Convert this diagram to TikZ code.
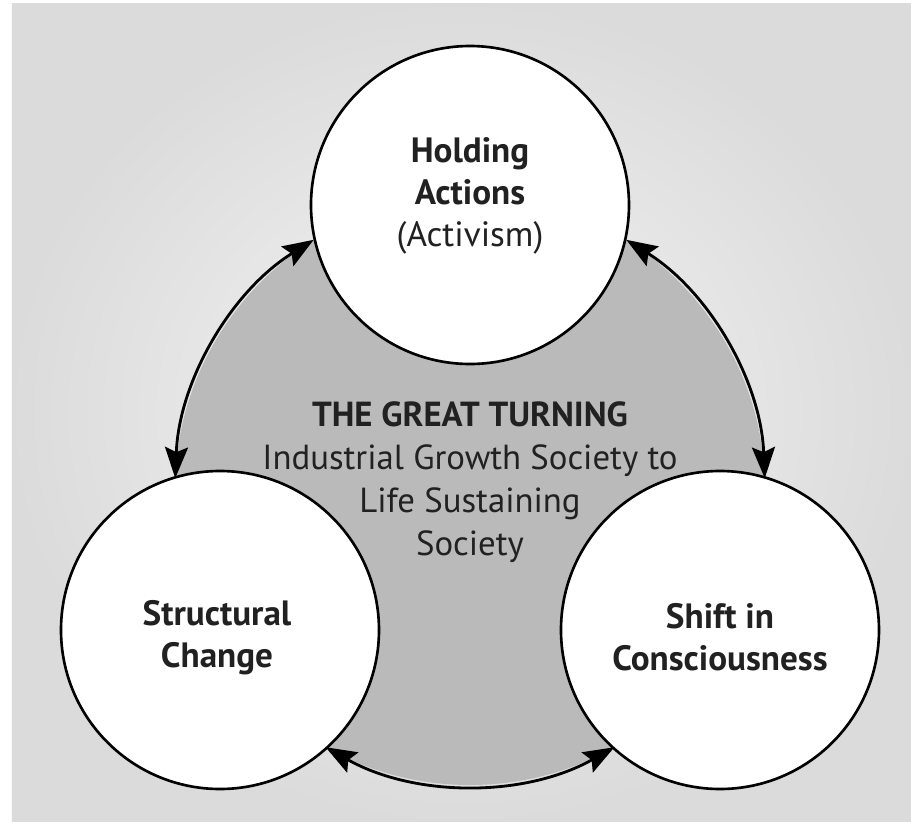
\documentclass[tikz,border=0pt]{standalone}
\usepackage{fontspec}
\setmainfont{PT Sans}
\usetikzlibrary{arrows.meta}
\definecolor{bgin}{gray}{0.96}
\definecolor{bgout}{gray}{0.86}
\definecolor{turnfill}{gray}{0.73}
\definecolor{inkgray}{gray}{0.13}
\tikzset{
>={Stealth[length=3.1mm,width=2.3mm,inset=0.5mm]},
  stage/.style={
    circle,
    draw=black, line width=0.75pt,
    fill=white,
    minimum size=3.18cm,
    inner sep=0pt},
  stagetext/.style={align=center, font=\bfseries, text=inkgray},
  twoway/.style={<->, line width=0.8pt},
  hubtext/.style={align=center, text=inkgray, font=\fontsize{9.9}{12.3}\selectfont},
}
\begin{document}
\begin{tikzpicture}[font=\fontsize{8.6}{12}\selectfont]
     \useasboundingbox (0,0) rectangle (9.11,-8.22);
     \shade[inner color=bgin, outer color=bgout] (0.12,-0.03) rectangle (9.11,-8.22);
     \coordinate (hub) at (4.70,-4.90);
     \fill[turnfill] (hub) circle[radius=2.95];
     % arrows along the ring
     \draw[twoway] ([shift={(122:2.95)}]hub) arc[start angle=122, end angle=177.7, radius=2.95];
     \draw[twoway] ([shift={(58:2.95)}]hub) arc[start angle=58, end angle=2.3, radius=2.95];
     \draw[twoway] ([shift={(240.7:2.95)}]hub) arc[start angle=240.7, end angle=299.3, radius=2.95];
     \node[stage] (hold)   at (4.70,-2.05) {};
     \node[stage] (struct) at (2.20,-6.30) {};
     \node[stage] (shift)  at (7.20,-6.30) {};
     \node[stagetext] (holdtext)   at (4.70,-1.96) {Holding\\Actions\\\mdseries(Activism)};
     \node[stagetext] (structtext) at (2.17,-6.38) {Structural\\Change};
     \node[stagetext] (shifttext)  at (7.20,-6.37) {Shift in\\Consciousness};
     \node[hubtext] (turning) at (4.70,-4.82) {\textbf{THE GREAT TURNING}\\Industrial Growth Society to\\Life Sustaining\\Society};
\end{tikzpicture}
\end{document}
